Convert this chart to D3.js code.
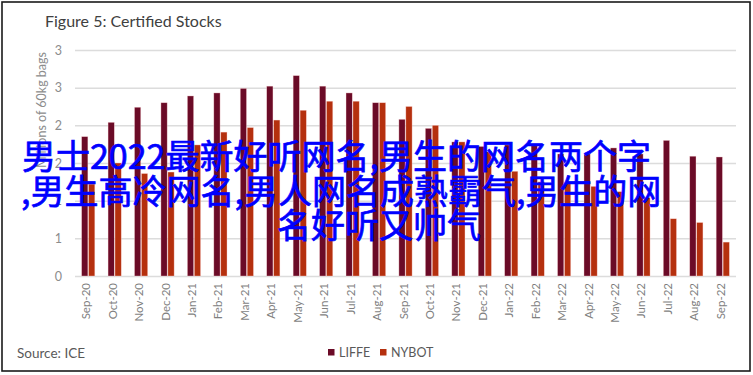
<!DOCTYPE html>
<html>
<head>
<meta charset="utf-8">
<script src="https://cdn.jsdelivr.net/npm/d3@7"></script>
<style>
  html, body { margin: 0; padding: 0; background: #fff; }
  svg { display: block; }
</style>
</head>
<body>
<svg id="chart" width="753" height="375"></svg>
<script>
// Chart data
const months = ["Sep-20", "Oct-20", "Nov-20", "Dec-20", "Jan-21", "Feb-21", "Mar-21", "Apr-21",
  "May-21", "Jun-21", "Jul-21", "Aug-21", "Sep-21", "Oct-21", "Nov-21", "Dec-21", "Jan-22",
  "Feb-22", "Mar-22", "Apr-22", "May-22", "Jun-22", "Jul-22", "Aug-22", "Sep-22"];
const liffe = [1.85, 2.04, 2.24, 2.30, 2.39, 2.43, 2.49, 2.52, 2.66, 2.52, 2.43, 2.30, 2.08,
  1.96, 1.78, 1.72, 1.74, 1.73, 1.62, 1.62, 1.70, 1.62, 1.80, 1.59, 1.58];
const nybot = [1.22, 1.50, 1.36, 1.38, 1.74, 1.91, 1.97, 2.07, 2.20, 2.32, 2.32, 2.30, 2.25,
  2.00, 1.78, 1.65, 1.39, 1.25, 1.23, 1.19, 1.12, 1.04, 0.76, 0.71, 0.45];
const seriesNames = ["LIFFE", "NYBOT"];
const seriesColors = ["#6b0b27", "#b5300e"];
const yTicks = [0, 0.5, 1, 1.5, 2, 2.5, 3];

// Overlay caption lines
const overlayLines = [
  "男士2022最新好听网名,男生的网名两个字",
  ",男生高冷网名,男人网名成熟霸气,男生的网",
  "名好听又帅气"
];

const svg = d3.select("#chart");
const plotLeft = 75, plotRight = 736, plotTop = 50, plotBottom = 276;

// Outer frame
svg.append("rect")
  .attr("x", 2).attr("y", 2)
  .attr("width", 748).attr("height", 369)
  .attr("fill", "#fff")
  .attr("stroke", "#1a1a1a")
  .attr("stroke-width", 1.6);

// Title
svg.append("text")
  .attr("x", 45).attr("y", 27)
  .attr("font-family", "Lato, 'Open Sans', sans-serif")
  .attr("font-size", 16)
  .attr("fill", "#404040")
  .text("Figure 5: Certified Stocks");

const x = d3.scaleBand().domain(months).range([plotLeft, plotRight]).padding(0);
const x1 = d3.scaleBand().domain(seriesNames).range([-6.6, 6.6]).paddingInner(0.1);
const y = d3.scaleLinear().domain([0, 3]).range([plotBottom, plotTop]);

// Y axis with gridlines
const yAxis = svg.append("g")
  .attr("transform", `translate(${plotLeft},0)`)
  .call(d3.axisLeft(y)
    .tickValues(yTicks)
    .tickFormat(d => Math.round(d))
    .tickSize(-(plotRight - plotLeft))
    .tickPadding(13));
yAxis.select(".domain").remove();
yAxis.selectAll(".tick line")
  .attr("stroke", "#dcdcdc")
  .attr("stroke-width", 1.5);
yAxis.selectAll(".tick text")
  .attr("font-family", "Lato, 'Open Sans', sans-serif")
  .attr("font-size", 12.5)
  .attr("fill", "#8c8c8c");

// Y axis title
svg.append("text")
  .attr("transform", "translate(46,52) rotate(-90)")
  .attr("text-anchor", "end")
  .attr("font-family", "Lato, 'Open Sans', sans-serif")
  .attr("font-size", 12.5)
  .attr("fill", "#8c8c8c")
  .text("Millions of 60kg bags");

// Bars
const rows = months.map((m, i) => ({ month: m, values: [liffe[i], nybot[i]] }));
const groups = svg.append("g").selectAll("g")
  .data(rows)
  .enter().append("g")
  .attr("transform", d => `translate(${x(d.month) + x.bandwidth() / 2},0)`);

groups.selectAll("rect")
  .data(d => d.values.map((v, k) => ({ name: seriesNames[k], value: v, color: seriesColors[k] })))
  .enter().append("rect")
  .attr("x", d => x1(d.name))
  .attr("y", d => y(d.value))
  .attr("width", x1.bandwidth())
  .attr("height", d => y(0) - y(d.value))
  .attr("fill", d => d.color)
  .attr("stroke", "rgba(255,220,220,0.6)")
  .attr("stroke-width", 0.6);

// X axis labels
const xAxis = svg.append("g")
  .attr("transform", `translate(0,${plotBottom})`)
  .call(d3.axisBottom(x).tickSize(0).tickPadding(0));
xAxis.select(".domain").remove();
xAxis.selectAll(".tick text")
  .attr("transform", "translate(-2,7) rotate(-90)")
  .attr("text-anchor", "end")
  .attr("x", 0).attr("y", 0)
  .attr("dy", "0.35em")
  .attr("font-family", "Lato, 'Open Sans', sans-serif")
  .attr("font-size", 11.5)
  .attr("fill", "#7f7f7f");

// Source note
svg.append("text")
  .attr("x", 17).attr("y", 358)
  .attr("font-family", "Lato, 'Open Sans', sans-serif")
  .attr("font-size", 13.5)
  .attr("fill", "#595959")
  .text("Source: ICE");

// Legend
const legendX = [328, 380];
const legend = svg.append("g").selectAll("g")
  .data(seriesNames)
  .enter().append("g")
  .attr("transform", (d, i) => `translate(${legendX[i]},349)`);
legend.append("rect")
  .attr("width", 6.5).attr("height", 6.5)
  .attr("fill", (d, i) => seriesColors[i]);
legend.append("text")
  .attr("x", 11).attr("y", 7.5)
  .attr("font-family", "Lato, 'Open Sans', sans-serif")
  .attr("font-size", 12.5)
  .attr("fill", "#595959")
  .text(d => d);

// Overlay caption (slightly heavier strokes, like the reference)
const overlayPos = [[22, 169], [21, 204], [277, 238]];
svg.append("g").selectAll("text")
  .data(overlayLines)
  .enter().append("text")
  .attr("x", (d, i) => overlayPos[i][0])
  .attr("y", (d, i) => overlayPos[i][1])
  .attr("font-family", "'Noto Sans CJK SC', sans-serif")
  .attr("font-size", 34)
  .attr("fill", "#0000ff")
  .attr("stroke", "#0000ff")
  .attr("stroke-width", 0.7)
  .text(d => d);
</script>
</body>
</html>
